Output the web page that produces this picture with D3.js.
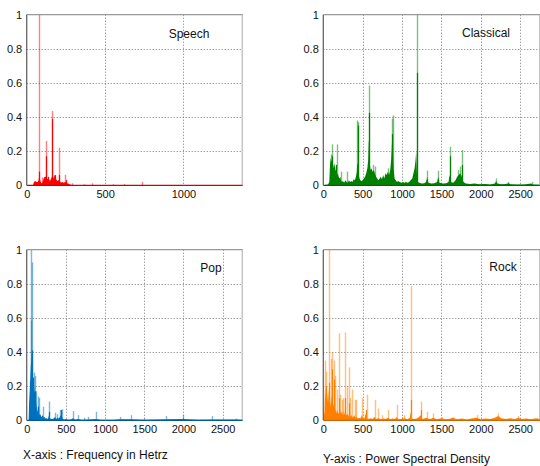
<!DOCTYPE html>
<html>
<head>
<meta charset="utf-8">
<style>
body { margin: 0; background: #fff; }
svg text { font-family: "Liberation Sans", Arial, sans-serif; fill: #111; }
.grid line { stroke: #777; stroke-width: 1; stroke-dasharray: 1,2; }
</style>
</head>
<body>
<svg id="chart" width="540" height="466"></svg>
<script src="https://d3js.org/d3.v7.min.js"></script>
<script>

// tick labels
var yTicks = [0, 0.2, 0.4, 0.6, 0.8, 1];
var xTicksSpeech = [0, 500, 1000];
var xTicksMusic = [0, 500, 1000, 1500, 2000, 2500];

// Speech  [Hz, psd]
var speechFloor = [[0,0],[40,0],[46,0.02],[54,0.025],[62,0.02],[70,0.02],[76,0.03],[80,0.06],[86,0.03],[94,0.01],[102,0.02],[110,0.045],[118,0.05],[126,0.05],[132,0.035],[140,0.04],[148,0.025],[156,0.04],[164,0.06],[170,0.04],[178,0.055],[186,0.04],[194,0.025],[202,0.03],[210,0.03],[218,0.015],[226,0.02],[236,0.015],[246,0.02],[256,0.012],[266,0.01],[276,0.004],[290,0.002],[1378,0.002]];
var speechCores = [[79,0.08],[121,0.17],[160,0.39],[204,0.06],[182,0.06],[138,0.05],[248,0.03]];
var speechPeaks = [[78,1.0],[121,0.26],[160,0.435],[204,0.22],[244,0.062],[100,0.045],[172,0.06],[291,0.012],[368,0.006],[415,0.012],[553,0.006],[623,0.007],[738,0.02]];

// Classical
var classicalFloor = [[0,0],[60,0.005],[76,0.02],[85,0.12],[95,0.16],[105,0.14],[115,0.15],[125,0.12],[135,0.1],[145,0.13],[155,0.09],[165,0.08],[175,0.06],[185,0.07],[195,0.05],[205,0.04],[215,0.05],[225,0.03],[235,0.02],[250,0.025],[265,0.015],[280,0.03],[295,0.02],[310,0.015],[325,0.03],[340,0.02],[355,0.025],[370,0.02],[385,0.035],[400,0.03],[415,0.05],[425,0.08],[432,0.13],[440,0.12],[450,0.06],[460,0.04],[470,0.03],[485,0.025],[500,0.03],[515,0.04],[530,0.05],[545,0.07],[560,0.1],[570,0.15],[578,0.27],[585,0.2],[592,0.12],[600,0.09],[612,0.1],[625,0.08],[640,0.09],[655,0.07],[670,0.05],[685,0.04],[700,0.03],[715,0.04],[730,0.05],[745,0.035],[760,0.06],[775,0.04],[790,0.07],[805,0.06],[820,0.08],[835,0.06],[850,0.09],[862,0.15],[872,0.25],[882,0.22],[892,0.1],[905,0.04],[920,0.03],[935,0.02],[950,0.025],[970,0.02],[990,0.015],[1010,0.02],[1030,0.015],[1050,0.02],[1070,0.015],[1090,0.02],[1110,0.03],[1130,0.04],[1145,0.07],[1160,0.1],[1172,0.15],[1180,0.2],[1190,0.06],[1200,0.02],[1220,0.015],[1250,0.01],[1280,0.012],[1305,0.02],[1320,0.05],[1335,0.015],[1370,0.01],[1410,0.012],[1445,0.02],[1460,0.05],[1475,0.015],[1520,0.01],[1560,0.012],[1590,0.02],[1605,0.06],[1620,0.02],[1650,0.015],[1680,0.03],[1700,0.05],[1720,0.06],[1740,0.07],[1760,0.05],[1780,0.02],[1810,0.01],[1860,0.008],[1920,0.01],[1980,0.006],[2050,0.008],[2120,0.005],[2180,0.01],[2195,0.025],[2210,0.01],[2260,0.006],[2320,0.008],[2350,0.012],[2380,0.006],[2450,0.004],[2550,0.004],[2640,0.01],[2660,0.004],[2756,0.003]];
var classicalCores = [[436,0.35],[580,0.425],[876,0.3],[1185,0.66],[1608,0.17],[1756,0.12],[115,0.17],[165,0.12]];
var classicalPeaks = [[92,0.18],[114,0.24],[170,0.24],[221,0.08],[297,0.08],[432,0.38],[444,0.37],[580,0.585],[630,0.12],[660,0.11],[820,0.1],[868,0.39],[884,0.41],[1185,1.0],[1320,0.086],[1460,0.085],[1608,0.226],[1713,0.09],[1730,0.11],[1756,0.207],[2192,0.04],[2348,0.02],[2645,0.02]];

// Pop
var popFloor = [[0,0],[25,0],[30,0.1],[40,0.18],[50,0.3],[58,0.35],[64,0.41],[70,0.3],[78,0.22],[86,0.25],[94,0.2],[102,0.16],[110,0.17],[118,0.12],[126,0.08],[134,0.06],[142,0.05],[150,0.07],[158,0.04],[166,0.03],[176,0.035],[186,0.02],[196,0.025],[206,0.03],[216,0.015],[228,0.02],[240,0.01],[255,0.012],[270,0.008],[285,0.03],[300,0.01],[320,0.008],[345,0.01],[362,0.02],[380,0.008],[392,0.015],[410,0.01],[430,0.025],[445,0.03],[460,0.008],[480,0.005],[500,0.008],[520,0.004],[560,0.004],[590,0.012],[620,0.004],[660,0.008],[700,0.003],[790,0.005],[880,0.008],[950,0.003],[1100,0.003],[1190,0.006],[1330,0.006],[1500,0.003],[1775,0.006],[2000,0.008],[2200,0.003],[2370,0.005],[2670,0.004],[2756,0.003]];
var popCores = [[64,0.41],[82,0.25],[112,0.17],[150,0.08],[285,0.05],[440,0.06]];
var popPeaks = [[36,0.23],[46,0.11],[51,0.585],[60,1.0],[64,0.925],[97,0.28],[108,0.26],[125,0.17],[140,0.14],[157,0.13],[212,0.08],[284,0.11],[361,0.045],[391,0.035],[425,0.06],[446,0.065],[587,0.055],[658,0.03],[735,0.015],[786,0.02],[880,0.05],[1190,0.02],[1330,0.03],[1496,0.01],[1773,0.025],[1997,0.03],[2223,0.005],[2367,0.025],[2670,0.01]];

// Rock
var rockFloor = [[0,0],[15,0.05],[22,0.2],[30,0.12],[40,0.2],[50,0.15],[60,0.1],[70,0.18],[80,0.12],[90,0.08],[100,0.15],[110,0.1],[120,0.07],[130,0.1],[140,0.06],[150,0.05],[160,0.07],[170,0.04],[180,0.06],[190,0.035],[200,0.05],[210,0.08],[220,0.04],[230,0.05],[240,0.03],[250,0.06],[260,0.03],[270,0.04],[280,0.07],[290,0.035],[300,0.03],[310,0.04],[320,0.02],[330,0.05],[340,0.025],[350,0.02],[360,0.035],[370,0.015],[380,0.02],[395,0.03],[410,0.015],[425,0.02],[440,0.01],[455,0.015],[470,0.01],[490,0.03],[505,0.012],[520,0.01],[540,0.04],[555,0.01],[575,0.008],[600,0.012],[625,0.008],[650,0.02],[670,0.008],[700,0.012],[730,0.006],[760,0.01],[790,0.008],[820,0.015],[850,0.006],[880,0.01],[910,0.008],[930,0.02],[950,0.006],[990,0.008],[1030,0.012],[1070,0.006],[1100,0.015],[1109,0.05],[1118,0.01],[1150,0.008],[1190,0.01],[1240,0.03],[1260,0.008],[1310,0.015],[1350,0.006],[1396,0.015],[1440,0.006],[1500,0.012],[1550,0.006],[1600,0.008],[1640,0.015],[1700,0.006],[1760,0.01],[1820,0.005],[1880,0.01],[1947,0.015],[2000,0.006],[2060,0.01],[2120,0.008],[2180,0.015],[2221,0.025],[2260,0.012],[2320,0.008],[2380,0.012],[2430,0.006],[2475,0.015],[2520,0.008],[2580,0.01],[2640,0.006],[2700,0.012],[2756,0.008]];
var rockCores = [[30,0.2],[76,0.22],[106,0.3],[136,0.24],[203,0.13],[279,0.13],[326,0.1],[542,0.06],[1109,0.12],[1240,0.06]];
var rockPeaks = [[22,0.35],[30,0.285],[76,1.0],[98,0.36],[110,0.4],[135,0.35],[144,0.26],[175,0.18],[203,0.51],[215,0.15],[233,0.12],[246,0.13],[279,0.515],[300,0.2],[326,0.31],[339,0.13],[368,0.18],[405,0.12],[420,0.12],[487,0.13],[551,0.15],[656,0.12],[698,0.07],[741,0.03],[825,0.06],[931,0.09],[995,0.02],[1028,0.03],[1109,0.787],[1240,0.11],[1312,0.05],[1396,0.04],[1502,0.02],[1642,0.02],[1947,0.03],[2221,0.04],[2475,0.025]];

var svg = d3.select("#chart");

var panels = [
  {name: "Speech", left: 26.7, top: 14.7, width: 216, xMax: 1378, ticks: xTicksSpeech, color: "#ff0000",
   floor: speechFloor, cores: speechCores, peaks: speechPeaks, lx: 189, ly: 38},
  {name: "Classical", left: 323.3, top: 14.7, width: 217, xMax: 2756, ticks: xTicksMusic, color: "#008000",
   floor: classicalFloor, cores: classicalCores, peaks: classicalPeaks, lx: 486, ly: 37},
  {name: "Pop", left: 26.7, top: 249.7, width: 216, xMax: 2756, ticks: xTicksMusic, color: "#0072bd",
   floor: popFloor, cores: popCores, peaks: popPeaks, lx: 211, ly: 272},
  {name: "Rock", left: 323.3, top: 249.7, width: 217, xMax: 2756, ticks: xTicksMusic, color: "#ff8000",
   floor: rockFloor, cores: rockCores, peaks: rockPeaks, lx: 503, ly: 271}
];

var h = 170.6;

panels.forEach(function(p) {
  var x = d3.scaleLinear().domain([0, p.xMax]).range([p.left, p.left + p.width]);
  var y = d3.scaleLinear().domain([0, 1]).range([p.top + h, p.top]);
  var g = svg.append("g");

  // dotted grid
  var grid = g.append("g").attr("class", "grid");
  grid.selectAll(".gx").data(p.ticks.filter(function(d) { return d > 0; }))
    .enter().append("line")
      .attr("x1", function(d) { return Math.round(x(d)) + 0.5; })
      .attr("x2", function(d) { return Math.round(x(d)) + 0.5; })
      .attr("y1", p.top).attr("y2", p.top + h);
  grid.selectAll(".gy").data(yTicks.filter(function(d) { return d > 0 && d < 1; }))
    .enter().append("line")
      .attr("x1", p.left).attr("x2", p.left + p.width)
      .attr("y1", function(d) { return Math.round(y(d)) + 0.5; })
      .attr("y2", function(d) { return Math.round(y(d)) + 0.5; });

  // light tall spikes
  g.append("g").selectAll("line").data(p.peaks).enter().append("line")
    .attr("x1", function(d) { return Math.round(x(d[0])) + 0.5; })
    .attr("x2", function(d) { return Math.round(x(d[0])) + 0.5; })
    .attr("y1", y(0))
    .attr("y2", function(d) { return y(d[1]); })
    .attr("stroke", p.color).attr("stroke-width", 1.4).attr("stroke-opacity", 0.5);

  // dense low part of the spectrum
  var area = d3.area()
    .x(function(d) { return x(d[0]); })
    .y0(y(0))
    .y1(function(d) { return y(d[1]); });
  g.append("path").datum(p.floor).attr("d", area).attr("fill", p.color);

  // solid cores
  g.append("g").selectAll("line").data(p.cores).enter().append("line")
    .attr("x1", function(d) { return Math.round(x(d[0])) + 0.5; })
    .attr("x2", function(d) { return Math.round(x(d[0])) + 0.5; })
    .attr("y1", y(0))
    .attr("y2", function(d) { return y(d[1]); })
    .attr("stroke", p.color).attr("stroke-width", 1.2);

  // baseline
  g.append("line")
    .attr("x1", p.left).attr("x2", p.left + p.width)
    .attr("y1", y(0)).attr("y2", y(0))
    .attr("stroke", d3.color(p.color).darker(0.6)).attr("stroke-width", 1.3);

  // frame
  g.append("line").attr("x1", p.left).attr("x2", p.left + p.width)
    .attr("y1", p.top).attr("y2", p.top).attr("stroke", "#999").attr("stroke-width", 1.3);
  g.append("line").attr("x1", p.left + p.width - 0.5).attr("x2", p.left + p.width - 0.5)
    .attr("y1", p.top).attr("y2", p.top + h).attr("stroke", "#aaa");
  g.append("line").attr("x1", p.left).attr("x2", p.left)
    .attr("y1", p.top).attr("y2", p.top + h).attr("stroke", "#666").attr("stroke-width", 1.3);

  // axes labels
  var ya = d3.axisLeft(y).tickValues(yTicks).tickSize(0).tickPadding(4.5)
    .tickFormat(function(d) { return String(d); });
  var gy = g.append("g").attr("transform", "translate(" + p.left + ",0)").call(ya);
  gy.select(".domain").remove();
  var xa = d3.axisBottom(x).tickValues(p.ticks).tickSize(0).tickPadding(5)
    .tickFormat(function(d) { return String(d); });
  var gx = g.append("g").attr("transform", "translate(0," + (p.top + h) + ")").call(xa);
  gx.select(".domain").remove();
  g.selectAll(".tick text").attr("font-size", "11px")
    .attr("font-family", "'Liberation Sans', Arial, sans-serif").attr("fill", "#111");

  g.append("text").attr("x", p.lx).attr("y", p.ly).attr("text-anchor", "middle")
    .attr("font-size", "12px").text(p.name);
});

svg.append("text").attr("x", 23).attr("y", 459).attr("font-size", "12px")
  .text("X-axis : Frequency in Hetrz");
svg.append("text").attr("x", 323).attr("y", 462.5).attr("font-size", "12px")
  .text("Y-axis : Power Spectral Density");

</script>
</body>
</html>
